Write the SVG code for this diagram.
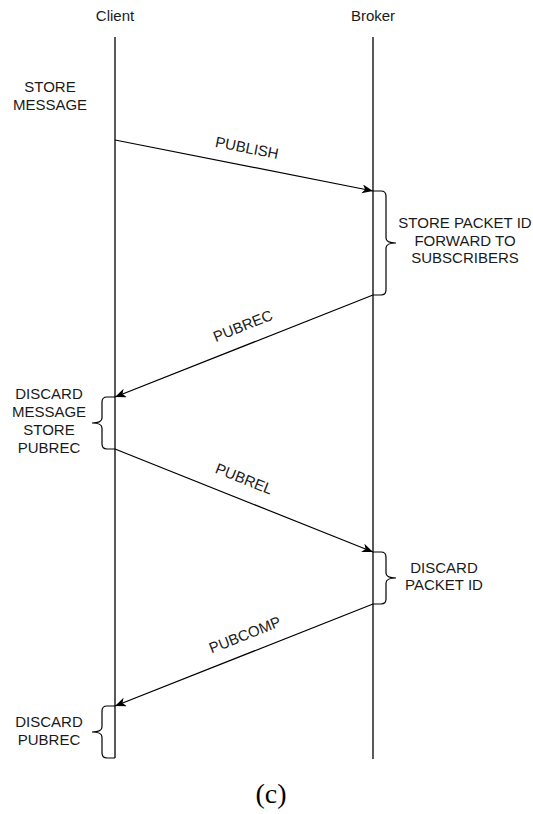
<svg xmlns="http://www.w3.org/2000/svg" width="533" height="814" viewBox="0 0 533 814">
  <style>
    .lbl { font-family: "Liberation Sans", Arial, sans-serif; font-size: 15px; fill: #1a1a1a; text-anchor: middle; }
    .life { stroke: #000; stroke-width: 1.3; fill: none; }
    .msg { stroke: #000; stroke-width: 1.2; fill: none; marker-end: url(#arrow); }
    .brace { stroke: #000; stroke-width: 1.2; fill: none; }
    .caption { font-family: "Liberation Serif", "Times New Roman", serif; font-size: 28px; fill: #000; text-anchor: middle; }
  </style>
  <defs>
    <marker id="arrow" markerUnits="userSpaceOnUse" markerWidth="12" markerHeight="10" refX="11" refY="4.5" orient="auto">
      <path d="M0,0 L11,4.5 L0,9 L3,4.5 Z" fill="#000"/>
    </marker>
  </defs>

  <!-- participants -->
  <g id="client">
    <text class="lbl" x="115" y="21">Client</text>
    <line class="life" x1="115" y1="37" x2="115" y2="758"/>
  </g>
  <g id="broker">
    <text class="lbl" x="373" y="21">Broker</text>
    <line class="life" x1="373" y1="37" x2="373" y2="759"/>
  </g>

  <!-- client-side notes -->
  <g id="note-store-message">
    <text class="lbl" x="50" y="92">STORE</text>
    <text class="lbl" x="50" y="110">MESSAGE</text>
  </g>
  <g id="note-discard-message">
    <path class="brace" d="M115,397 H107 Q102,397 102,402 V418 Q102,423 92,423 Q102,423 102,428 V444 Q102,449 107,449 H115"/>
    <text class="lbl" x="49" y="399">DISCARD</text>
    <text class="lbl" x="49" y="417">MESSAGE</text>
    <text class="lbl" x="49" y="435">STORE</text>
    <text class="lbl" x="49" y="453">PUBREC</text>
  </g>
  <g id="note-discard-pubrec">
    <path class="brace" d="M115,706 H107 Q102,706 102,711 V727 Q102,732 92,732 Q102,732 102,737 V753 Q102,758 107,758 H115"/>
    <text class="lbl" x="49" y="727">DISCARD</text>
    <text class="lbl" x="49" y="745">PUBREC</text>
  </g>

  <!-- broker-side notes -->
  <g id="note-store-packet">
    <path class="brace" d="M373,191 H381 Q386,191 386,196 V238 Q386,243 396,243 Q386,243 386,248 V290 Q386,295 381,295 H373"/>
    <text class="lbl" x="465" y="228">STORE PACKET ID</text>
    <text class="lbl" x="465" y="245.5">FORWARD TO</text>
    <text class="lbl" x="465" y="263">SUBSCRIBERS</text>
  </g>
  <g id="note-discard-packet">
    <path class="brace" d="M373,552 H381 Q386,552 386,557 V573 Q386,578 396,578 Q386,578 386,583 V599 Q386,604 381,604 H373"/>
    <text class="lbl" x="444" y="573">DISCARD</text>
    <text class="lbl" x="444" y="590">PACKET ID</text>
  </g>

  <!-- messages -->
  <g id="connectors">
    <line class="msg" x1="115" y1="140" x2="373" y2="191"/>
    <line class="msg" x1="373" y1="295" x2="115" y2="397"/>
    <line class="msg" x1="115" y1="449" x2="373" y2="552"/>
    <line class="msg" x1="373" y1="604" x2="115" y2="706"/>
    <text class="lbl" x="247" y="153" transform="rotate(11.2 247 148)">PUBLISH</text>
    <text class="lbl" x="243" y="331" transform="rotate(-21.6 243 326)">PUBREC</text>
    <text class="lbl" x="244" y="484" transform="rotate(21.6 244 479)">PUBREL</text>
    <text class="lbl" x="245" y="640" transform="rotate(-21.6 245 635)">PUBCOMP</text>
  </g>

  <text class="caption" x="271" y="803">(c)</text>
</svg>
